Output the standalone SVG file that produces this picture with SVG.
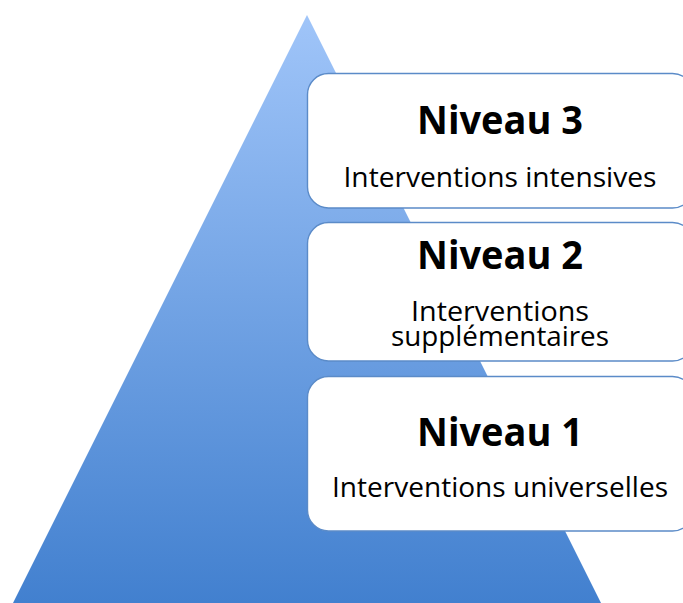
<svg xmlns="http://www.w3.org/2000/svg" width="683" height="603" viewBox="0 0 683 603">
  <defs>
    <linearGradient id="pyr" x1="0" y1="15" x2="0" y2="603" gradientUnits="userSpaceOnUse">
      <stop offset="0" stop-color="#a0c5f9"/>
      <stop offset="1" stop-color="#4280cf"/>
    </linearGradient>
  </defs>
  <style>
    .box { fill: #ffffff; stroke: #5b8bc8; stroke-width: 1.4; }
    .title { font-family: "Open Sans", "Liberation Sans", sans-serif; font-weight: bold; font-size: 39px; fill: #000000; text-anchor: middle; }
    .sub { font-family: "Open Sans", "Liberation Sans", sans-serif; font-size: 27px; fill: #000000; text-anchor: middle; }
  </style>
  <rect x="0" y="0" width="683" height="603" fill="#ffffff"/>
  <g id="pyramid">
    <polygon points="307,15 601,603 13,603" fill="url(#pyr)"/>
  </g>
  <g id="connectors"></g>
  <g id="niveau3">
    <rect class="box" x="307.5" y="73.5" width="386" height="134.5" rx="21" ry="21"/>
    <text class="title" x="500" y="134" textLength="166" lengthAdjust="spacingAndGlyphs">Niveau 3</text>
    <text class="sub" x="500" y="187" textLength="313" lengthAdjust="spacingAndGlyphs">Interventions intensives</text>
  </g>
  <g id="niveau2">
    <rect class="box" x="307.5" y="222.5" width="386" height="138.5" rx="21" ry="21"/>
    <text class="title" x="500" y="269" textLength="166" lengthAdjust="spacingAndGlyphs">Niveau 2</text>
    <text class="sub"><tspan x="500" y="321" textLength="178" lengthAdjust="spacingAndGlyphs">Interventions</tspan><tspan x="500" y="346" textLength="218" lengthAdjust="spacingAndGlyphs">supplémentaires</tspan></text>
  </g>
  <g id="niveau1">
    <rect class="box" x="307.5" y="376.5" width="386" height="154.5" rx="21" ry="21"/>
    <text class="title" x="500" y="446" textLength="166" lengthAdjust="spacingAndGlyphs">Niveau 1</text>
    <text class="sub" x="500" y="497" textLength="336" lengthAdjust="spacingAndGlyphs">Interventions universelles</text>
  </g>
</svg>
